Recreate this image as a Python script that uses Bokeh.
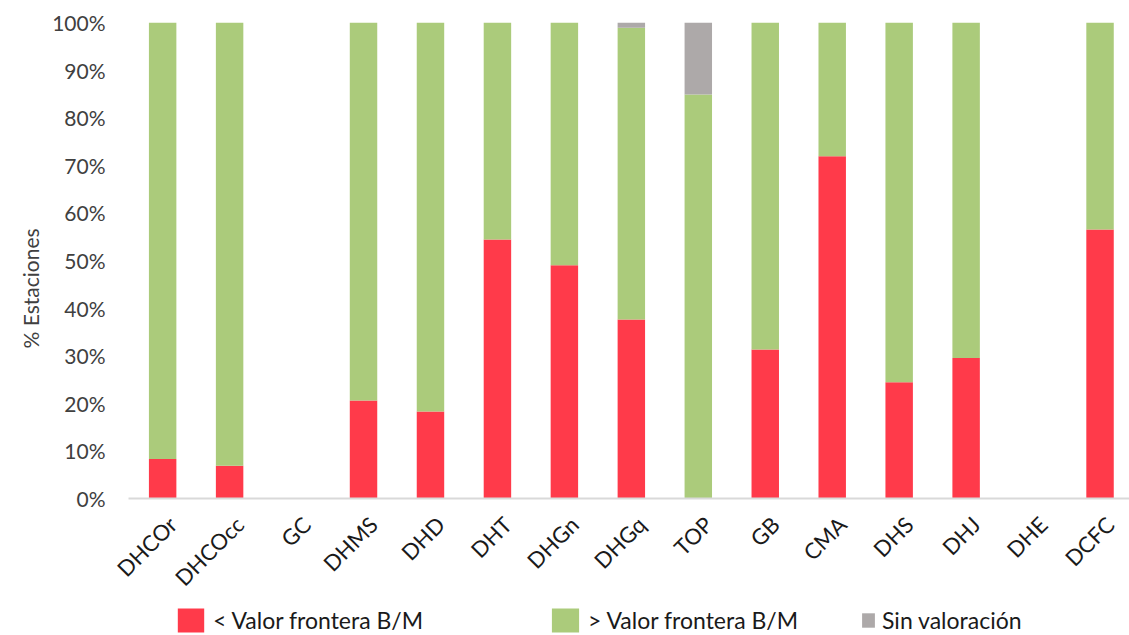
import math
from bokeh.plotting import figure
from bokeh.layouts import column
from bokeh.models import (ColumnDataSource, Range1d, FixedTicker, PrintfTickFormatter,
                          Legend, LegendItem, Title)
from bokeh.core.properties import value
from bokeh.embed import file_html
from bokeh.resources import INLINE

categories = ["DHCOr", "DHCOcc", "GC", "DHMS", "DHD", "DHT", "DHGn", "DHGq",
              "TOP", "GB", "CMA", "DHS", "DHJ", "DHE", "DCFC"]
below_limit = [8.3, 6.9, 0, 20.6, 18.3, 54.4, 49.0, 37.6, 0, 31.3, 71.9, 24.4, 29.5, 0, 56.5]
above_limit = [91.7, 93.1, 0, 79.4, 81.7, 45.6, 51.0, 61.3, 84.9, 68.7, 28.1, 75.6, 70.5, 0, 43.5]
no_value = [0, 0, 0, 0, 0, 0, 0, 1.1, 15.1, 0, 0, 0, 0, 0, 0]
series_labels = ["< Valor frontera B/M", "> Valor frontera B/M", "Sin valoración"]
y_ticks = [0, 10, 20, 30, 40, 50, 60, 70, 80, 90, 100]
y_title = "% Estaciones"

colors = ["#FF3A4A", "#ABCB7B", "#ADA9A9"]
FONT = "Lato"
stack_cols = ["below", "above", "nov"]
LABEL_SHIFT = 0.15  # category-label anchor offset (style only)

xs = list(range(len(categories)))
src = ColumnDataSource(dict(x=xs, below=below_limit, above=above_limit, nov=no_value))

p = figure(width=1129, height=605, x_range=Range1d(-0.51, 14.44), y_range=Range1d(0, 100),
           output_backend="svg", toolbar_location=None,
           min_border_left=128, min_border_right=0, min_border_top=22, min_border_bottom=107)
p.outline_line_color = None
p.xgrid.visible = False
p.ygrid.visible = False

rs = p.vbar_stack(stack_cols, x="x", width=0.41, color=colors,
                  line_color=None, source=src)

# y axis
p.yaxis.ticker = FixedTicker(ticks=y_ticks)
p.yaxis.formatter = PrintfTickFormatter(format="%d%%")
p.yaxis.axis_line_color = None
p.yaxis.major_tick_line_color = None
p.yaxis.minor_tick_line_color = None
p.yaxis.major_label_standoff = 17
p.yaxis.major_label_text_font = FONT
p.yaxis.major_label_text_font_size = "21px"
p.yaxis.major_label_text_color = "#404040"

# x axis
tick_pos = [i + LABEL_SHIFT for i in xs]
p.xaxis.ticker = FixedTicker(ticks=tick_pos)
p.xaxis.major_label_overrides = {t: c for t, c in zip(tick_pos, categories)}
p.xaxis.major_label_orientation = math.pi / 4
p.xaxis.axis_line_color = "#D9D9D9"
p.xaxis.axis_line_width = 2
p.xaxis.major_tick_line_color = None
p.xaxis.minor_tick_line_color = None
p.xaxis.major_label_standoff = 16
p.xaxis.major_label_text_font = FONT
p.xaxis.major_label_text_font_size = "22px"
p.xaxis.major_label_text_color = "#1a1a1a"

# y title
p.add_layout(Title(text=y_title, align="left", offset=150, text_font=FONT,
                   text_font_size="21px", text_font_style="normal",
                   text_color="#404040", standoff=14), "left")

# legend strip (its frame is aligned with the main plot's frame)
lf = figure(width=1129, height=30, x_range=Range1d(0, 1), y_range=Range1d(1000, 1001),
            output_backend="svg", toolbar_location=None,
            x_axis_location=None, y_axis_location=None,
            min_border_left=128, min_border_right=0, min_border_top=0, min_border_bottom=0)
lf.outline_line_color = None
lf.xgrid.visible = False
lf.ygrid.visible = False

def make_legend(i, x, y, gw, gh):
    # renderer kept out of view; only used to draw the legend swatch
    r = lf.vbar(x="x", top=stack_cols[i], width=0.41, color=colors[i],
                line_color=None, source=src)
    lg = Legend(items=[LegendItem(label=value(series_labels[i]), renderers=[r])],
                location=(x, y), orientation="horizontal",
                glyph_width=gw, glyph_height=gh, label_standoff=6,
                padding=0, margin=0, border_line_color=None, background_fill_alpha=0,
                label_text_font=FONT, label_text_font_size="23px",
                label_text_color="#1a1a1a", label_height=gh)
    lf.add_layout(lg, "center")

make_legend(0, 46, 0, 33, 30)
make_legend(1, 420, 0, 34, 30)
make_legend(2, 732, 1, 16, 18)

layout = column(p, lf, spacing=0)
open("out.html", "w").write(file_html(layout, INLINE))
